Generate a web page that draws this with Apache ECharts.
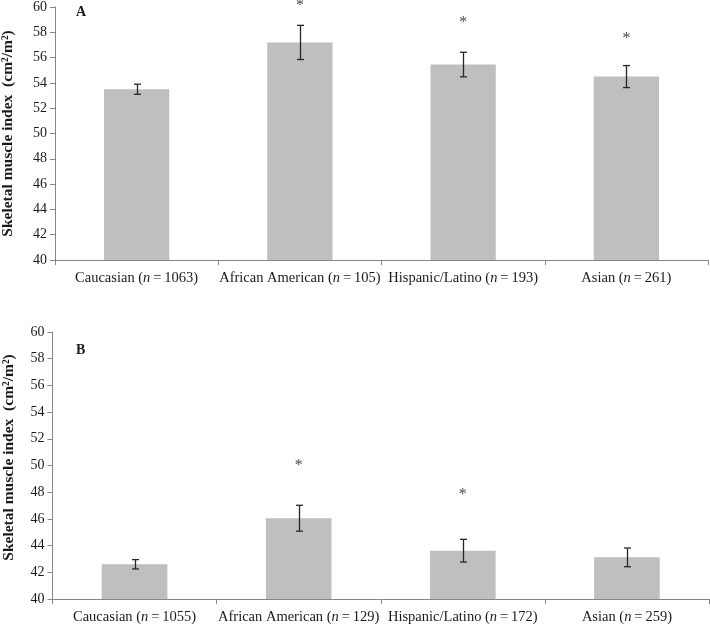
<!DOCTYPE html>
<html><head><meta charset="utf-8">
<script src="https://cdn.jsdelivr.net/npm/echarts@6/dist/echarts.min.js"></script>
<style>html,body{margin:0;padding:0;background:#fff}#c{width:710px;height:629px}</style>
</head><body><div id="c"></div>
<script>
var groups = ['Caucasian', 'African American', 'Hispanic/Latino', 'Asian'];
var nA = ['1063', '105', '193', '261'];
var nB = ['1055', '129', '172', '259'];
var meanA = [53.5, 57.2, 55.45, 54.5];
var errA = [0.4, 1.35, 0.97, 0.87];
var starA = [null, 60.35, 59.0, 57.7];
var meanB = [42.6, 46.05, 43.62, 43.12];
var errB = [0.35, 0.97, 0.85, 0.7];
var starB = [null, 50.2, 48.0, null];
var yTicks = [40, 42, 44, 46, 48, 50, 52, 54, 56, 58, 60];

var FONT = 'Liberation Serif';
var chart = echarts.init(document.getElementById('c'), null, {renderer: 'canvas'});

function labelsFor(ns) {
  return groups.map(function (g, i) { return g + '|' + ns[i]; });
}
function xAxisFor(idx, ns) {
  return {
    type: 'category', gridIndex: idx, data: labelsFor(ns),
    axisLine: {lineStyle: {color: '#868686', width: 1}},
    axisTick: {show: true, length: 5, alignWithLabel: false, lineStyle: {color: '#868686'}},
    axisLabel: {
      margin: 11, interval: 0,
      formatter: function (v) {
        var p = v.split('|');
        return '{r|' + p[0] + ' (}{i|n}{r|\u2009=\u2009' + p[1] + ')}';
      },
      rich: {
        r: {fontFamily: FONT, fontSize: 14.5, color: '#1a1a1a'},
        i: {fontFamily: FONT, fontSize: 14.5, fontStyle: 'italic', color: '#1a1a1a'}
      }
    }
  };
}
function yAxisFor(idx, gap, pad) {
  return {
    type: 'value', gridIndex: idx, min: yTicks[0], max: yTicks[yTicks.length - 1], interval: 2,
    name: 'Skeletal muscle index  (cm\u00b2/m\u00b2)', nameLocation: 'middle', nameGap: gap,
    nameMoveOverlap: false,
    nameTextStyle: {fontFamily: FONT, fontSize: 15.5, fontWeight: 'bold', color: '#1a1a1a', padding: pad},
    axisLine: {show: true, lineStyle: {color: '#868686'}},
    axisTick: {show: true, length: 5, lineStyle: {color: '#868686'}},
    splitLine: {show: false},
    axisLabel: {fontFamily: FONT, fontSize: 14, color: '#1a1a1a', margin: 8}
  };
}
function barSeries(idx, vals) {
  return {
    type: 'bar', xAxisIndex: idx, yAxisIndex: idx, data: vals, barWidth: '40%',
    itemStyle: {color: '#bfbfbf'}, silent: true
  };
}
function errSeries(idx, vals, errs) {
  return {
    type: 'custom', xAxisIndex: idx, yAxisIndex: idx, silent: true, z: 5,
    data: vals.map(function (v, i) { return [i, v - errs[i], v + errs[i]]; }),
    renderItem: function (params, api) {
      var lo = api.coord([api.value(0), api.value(1)]);
      var hi = api.coord([api.value(0), api.value(2)]);
      var x = Math.round(lo[0]) + 0.5, h = 3.5;
      var st = {stroke: '#262626', lineWidth: 1.3};
      return {type: 'group', children: [
        {type: 'line', shape: {x1: x, y1: hi[1], x2: x, y2: lo[1]}, style: st},
        {type: 'line', shape: {x1: x - h, y1: hi[1], x2: x + h, y2: hi[1]}, style: st},
        {type: 'line', shape: {x1: x - h, y1: lo[1], x2: x + h, y2: lo[1]}, style: st}
      ]};
    }
  };
}
function starSeries(idx, vals) {
  return {
    type: 'scatter', xAxisIndex: idx, yAxisIndex: idx, silent: true, clip: false,
    data: vals, symbolSize: 1, itemStyle: {color: 'rgba(0,0,0,0)'},
    label: {show: true, position: 'inside', formatter: '*', offset: [0, 3],
      fontFamily: FONT, fontSize: 16, color: '#111'}
  };
}

chart.setOption({
  animation: false,
  backgroundColor: '#ffffff',
  title: [
    {text: 'A', left: 71, top: 0, textStyle: {fontFamily: FONT, fontSize: 14, fontWeight: 'bold', color: '#1a1a1a'}},
    {text: 'B', left: 71, top: 338, textStyle: {fontFamily: FONT, fontSize: 14, fontWeight: 'bold', color: '#1a1a1a'}}
  ],
  grid: [
    {left: 55, right: 2, top: 7, height: 253, outerBoundsMode: 'none', containLabel: false},
    {left: 52.5, right: 1, top: 332, height: 267, outerBoundsMode: 'none', containLabel: false}
  ],
  xAxis: [xAxisFor(0, nA), xAxisFor(1, nB)],
  yAxis: [yAxisFor(0, 39, [0, 0, 0, 0]), yAxisFor(1, 36, [0, 0, 0, 16])],
  series: [
    barSeries(0, meanA), errSeries(0, meanA, errA), starSeries(0, starA),
    barSeries(1, meanB), errSeries(1, meanB, errB), starSeries(1, starB)
  ]
});
</script></body></html>
